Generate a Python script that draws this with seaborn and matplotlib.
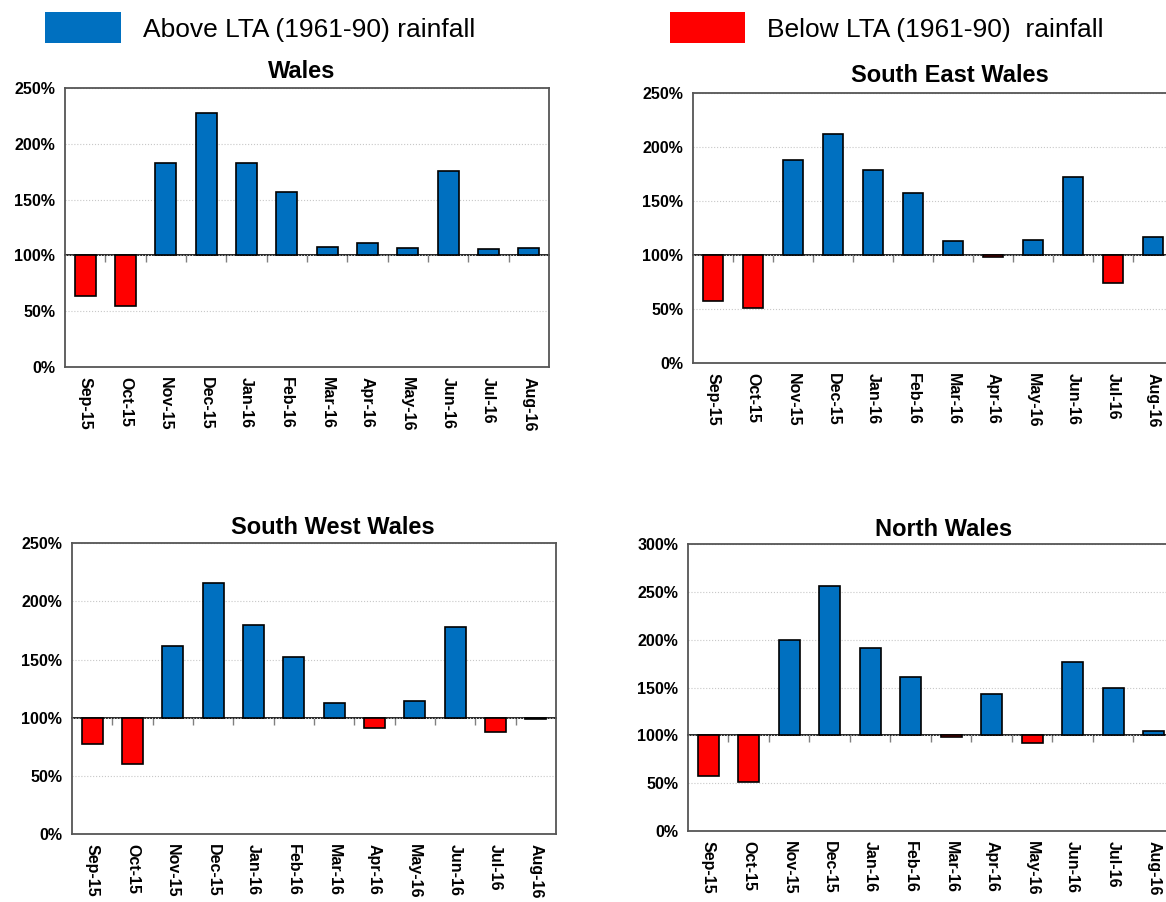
import numpy as np
import matplotlib
matplotlib.use("Agg")
import matplotlib.pyplot as plt
import seaborn as sns
from matplotlib.patches import Rectangle
from matplotlib.ticker import FuncFormatter

# Monthly rainfall as % of the 1961-90 long term average
months = ['Sep-15', 'Oct-15', 'Nov-15', 'Dec-15', 'Jan-16', 'Feb-16',
          'Mar-16', 'Apr-16', 'May-16', 'Jun-16', 'Jul-16', 'Aug-16']
wales = [64, 55, 183, 228, 183, 157, 108, 111, 107, 176, 106, 107]
south_east = [57, 51, 188, 212, 179, 157, 113, 98, 114, 172, 74, 117]
south_west = [77, 60, 162, 216, 180, 152, 113, 91, 114, 178, 88, 99]
north = [57, 51, 200, 256, 191, 161, 98, 143, 92, 177, 150, 105]

titles = ['Wales', 'South East Wales', 'South West Wales', 'North Wales']
series = [wales, south_east, south_west, north]
y_max = [250, 250, 250, 300]

blue = '#0070C0'
red = '#FF0000'

sns.set_style('white')
plt.rcParams['font.family'] = ['Liberation Sans', 'DejaVu Sans']
plt.rcParams['text.color'] = 'black'
plt.rcParams['xtick.labelcolor'] = 'black'
plt.rcParams['ytick.labelcolor'] = 'black'

fig = plt.figure(figsize=(11.66, 9.02), dpi=100)

# axes boxes in figure fractions
boxes = [[0.0557, 0.5931, 0.4151, 0.3093],
         [0.5943, 0.5976, 0.4117, 0.2993],
         [0.0617, 0.0754, 0.4151, 0.3223],
         [0.5900, 0.0787, 0.4168, 0.3182]]
title_x = [0.49, 0.535, 0.54, 0.525]
title_pad = [7, 8, 7, 6]

for box, title, vals, top, tx, tp in zip(boxes, titles, series, y_max, title_x, title_pad):
    ax = fig.add_axes(box)
    dev = [v - 100 for v in vals]
    status = ['Above' if v >= 100 else 'Below' for v in vals]
    sns.barplot(x=months, y=dev, hue=status, palette={'Above': blue, 'Below': red},
                dodge=False, legend=False, width=0.52, saturation=1,
                edgecolor='black', linewidth=1.2, ax=ax)

    ax.set_xlim(-0.5, 11.5)
    ax.set_ylim(-100, top - 100)
    ax.set_yticks(np.arange(-100, top - 100 + 1, 50))
    ax.yaxis.set_major_formatter(FuncFormatter(lambda v, p: f'{v + 100:.0f}%'))
    ax.yaxis.grid(True, color='#c8c8c8', linestyle=':', linewidth=0.8)
    ax.set_axisbelow(True)
    ax.set_xlabel('')
    ax.set_ylabel('')

    ax.tick_params(axis='y', length=5, width=1, color='#808080', pad=2,
                   labelsize=11.5, labelcolor='black')
    ax.tick_params(axis='x', length=0, pad=7, labelsize=11.5, labelcolor='black')
    for lab in ax.get_yticklabels():
        lab.set_fontweight('bold')
    for lab in ax.get_xticklabels():
        lab.set_fontweight('bold')
        lab.set_rotation(270)
        lab.set_va('top')
        lab.set_ha('center')

    for s in ax.spines.values():
        s.set_visible(True)
        s.set_color('#555555')
        s.set_linewidth(1.3)

    # the 100% line with small ticks between months
    sec = ax.secondary_xaxis(100 / top)
    sec.set_xticks(np.arange(0.5, 11, 1))
    sec.tick_params(axis='x', direction='out', length=5, width=1,
                    color='#808080', labelbottom=False, labeltop=False)
    sec.spines['bottom'].set_color('black')
    sec.spines['bottom'].set_linewidth(1.2)

    ax.set_title(title, x=tx, fontsize=17, fontweight='bold', pad=tp, color='black')

# legend at the top
fig.patches.append(Rectangle((0.0386, 0.9523), 0.0652, 0.0344, transform=fig.transFigure,
                             facecolor=blue, edgecolor='none'))
fig.text(0.1226, 0.967, 'Above LTA (1961-90) rainfall', fontsize=19, va='center', ha='left',
         color='black')
fig.patches.append(Rectangle((0.5746, 0.9523), 0.0643, 0.0344, transform=fig.transFigure,
                             facecolor=red, edgecolor='none'))
fig.text(0.6578, 0.967, 'Below LTA (1961-90)  rainfall', fontsize=19, va='center', ha='left',
         color='black')

fig.savefig('out.png', dpi=100)
